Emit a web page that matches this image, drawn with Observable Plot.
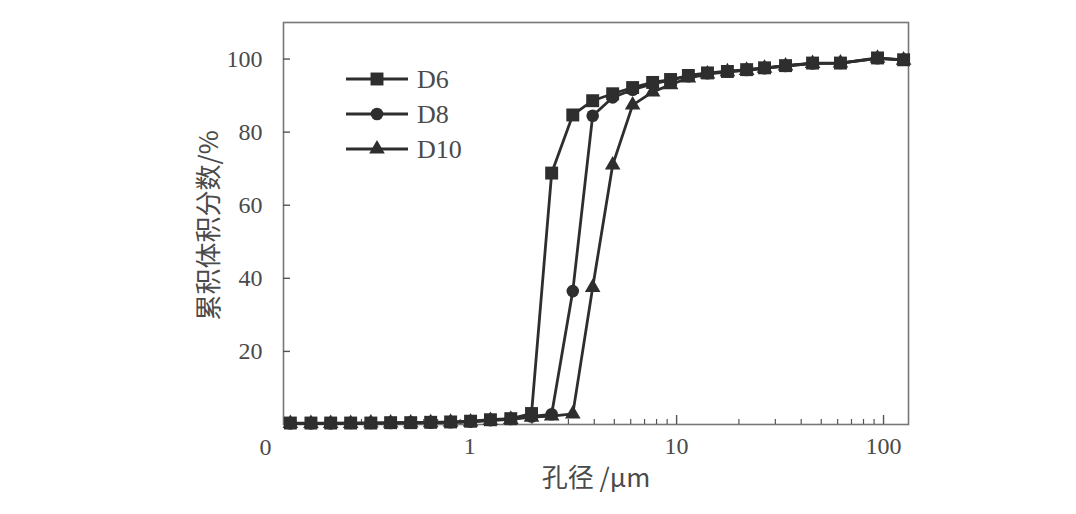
<!DOCTYPE html>
<html><head><meta charset="utf-8">
<script src="https://cdn.jsdelivr.net/npm/d3@7"></script>
<script src="https://cdn.jsdelivr.net/npm/@observablehq/plot@0.6"></script>
<style>
body{margin:0;background:#fff;}
#wrap{position:relative;width:1076px;height:514px;background:#fff;}
#legend{position:absolute;left:0;top:0;}
</style></head><body><div id="wrap"></div>
<script>
// pore size (µm)
const sizes = [0.136,0.171,0.213,0.266,0.333,0.415,0.519,0.648,0.809,1.01,1.26,1.58,1.99,2.49,3.15,3.93,4.91,6.13,7.66,9.35,11.4,14.1,17.6,21.8,26.6,33.6,45.4,61.9,93.5,125];
// cumulative volume fraction (%)
const d6  = [0.4,0.4,0.4,0.4,0.4,0.5,0.5,0.6,0.7,0.9,1.3,1.6,3.0,68.8,84.7,88.6,90.5,92.2,93.6,94.4,95.5,96.2,96.6,97.1,97.6,98.2,98.9,98.9,100.3,99.8];
const d8  = [0.3,0.3,0.3,0.4,0.4,0.4,0.5,0.5,0.6,0.8,1.2,1.5,2.2,2.8,36.5,84.5,89.5,91.6,93.2,94.2,95.3,96.1,96.6,97.0,97.5,98.1,98.8,98.9,100.2,99.8];
const d10 = [0.3,0.3,0.3,0.3,0.4,0.4,0.4,0.5,0.6,0.7,1.1,1.4,2.0,2.3,2.9,37.5,71.0,87.4,91.0,93.0,94.8,95.9,96.5,96.9,97.5,98.1,98.8,98.9,100.2,99.7];
const seriesNames = ["D6","D8","D10"];
const seriesSymbols = ["square","circle","triangle"];
const seriesR = [7.3,6.3,5.8];
const xTicks = [1,10,100];
const xMinor = [0.2,0.3,0.4,0.5,0.6,0.7,0.8,0.9,2,3,4,5,6,7,8,9,20,30,40,50,60,70,80,90];
const yTicks = [20,40,60,80,100];
const xDomain = [0.126,132];
const yDomain = [0,110];
const xZeroLabel = "0";
const xLabel = "孔径 /μm";
const yLabel = "累积体积分数/%";

const allSeries = [d6,d8,d10].map((vals,i)=>vals.map((v,j)=>({x:sizes[j],y:v,s:seriesNames[i]})));

const W=1076,H=514, mL=283, mR=168, mT=22, mB=90;
const pw=W-mL-mR, ph=H-mT-mB;
const ink="#2e2e2e", txt="#4a4a4a";
const serif="'Liberation Serif','DejaVu Serif',serif";
const cjk="'Noto Sans CJK SC','Noto Sans CJK JP',sans-serif";

const marks = [
  Plot.frame({stroke:"#777", strokeWidth:1.6}),
  Plot.tickX(xTicks,{x:d=>d, insetTop:ph-9, stroke:"#555", strokeWidth:1.4}),
  Plot.tickX(xMinor,{x:d=>d, insetTop:ph-5, stroke:"#555", strokeWidth:1.2}),
  Plot.tickY(yTicks,{y:d=>d, insetRight:pw-7, stroke:"#555", strokeWidth:1.4}),
  Plot.axisX({ticks:xTicks, tickSize:0, tickPadding:12, tickFormat:d=>String(d), fontSize:24, fontFamily:serif, fill:txt, label:null}),
  Plot.axisY({ticks:yTicks, tickSize:0, tickPadding:21, tickFormat:d=>String(d), fontSize:24, fontFamily:serif, fill:txt, label:null}),
  Plot.text([xZeroLabel],{x:()=>xDomain[0], y:()=>yDomain[0], dx:-18, dy:23, fontSize:24, fontFamily:serif, fill:txt}),
  Plot.text([xLabel],{frameAnchor:"bottom", dy:62, fontSize:26, fontFamily:cjk, fill:txt}),
  Plot.text([yLabel],{frameAnchor:"left", textAnchor:"middle", rotate:-90, dx:-74, dy:2, fontSize:26, fontFamily:cjk, fill:txt}),
];
allSeries.forEach((data,i)=>{
  marks.push(Plot.line(data,{x:"x",y:"y", stroke:ink, strokeWidth:2.8}));
});
allSeries.forEach((data,i)=>{
  marks.push(Plot.dot(data,{x:"x",y:"y", symbol:()=>seriesSymbols[i], r:seriesR[i], fill:ink, stroke:"none"}));
});

const chart = Plot.plot({
  width:W, height:H, marginLeft:mL, marginRight:mR, marginTop:mT, marginBottom:mB,
  style:{background:"#fff", color:txt, fontFamily:serif},
  x:{type:"log", domain:xDomain, axis:null},
  y:{domain:yDomain, axis:null},
  symbol:{type:"identity"},
  marks
});
const wrap=document.getElementById("wrap");
wrap.appendChild(chart);

// legend overlay
const lg = d3.select(wrap).append("svg").attr("id","legend").attr("width",W).attr("height",H);
const lx0=346, lx1=408, ly0=79, lstep=35;
seriesNames.forEach((name,i)=>{
  const g=lg.append("g").attr("transform",`translate(0,${ly0+i*lstep})`);
  g.append("line").attr("x1",lx0).attr("x2",lx1).attr("y1",0).attr("y2",0).attr("stroke",ink).attr("stroke-width",2.8);
  const sym = {square:d3.symbolSquare,circle:d3.symbolCircle,triangle:d3.symbolTriangle}[seriesSymbols[i]];
  g.append("path").attr("d",d3.symbol(sym, Math.PI*seriesR[i]*seriesR[i])()).attr("transform",`translate(${(lx0+lx1)/2},0)`).attr("fill",ink);
  g.append("text").attr("x",lx1+9).attr("y",0).attr("dy","0.35em").attr("font-family",serif).attr("font-size",26).attr("fill",txt).text(name);
});
</script>
</body></html>
